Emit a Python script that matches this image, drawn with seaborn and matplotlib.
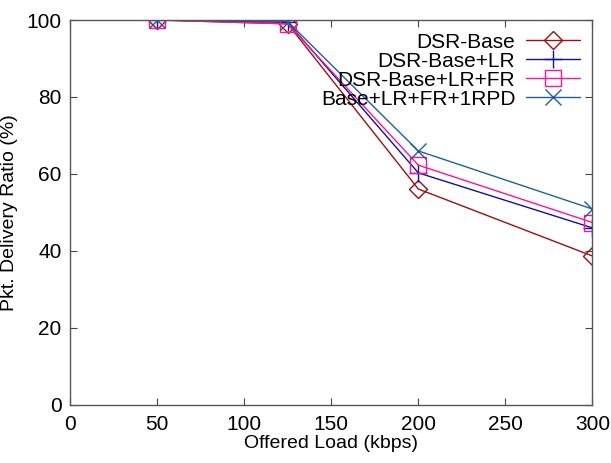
import pandas as pd
import matplotlib
matplotlib.use('Agg')
import matplotlib.pyplot as plt
import seaborn as sns

# Data
load = [50, 125, 200, 300]
dsr_base = [100, 99.0, 56.1, 38.7]
dsr_lr = [100, 99.4, 60.3, 46.0]
dsr_lr_fr = [100, 99.0, 62.3, 47.4]
dsr_lr_fr_rpd = [100, 99.6, 66.0, 50.9]

series_names = ['DSR-Base', 'DSR-Base+LR', 'DSR-Base+LR+FR', 'Base+LR+FR+1RPD']
colors = ['#9b1010', '#1010a8', '#ff1493', '#1f5fa0']
markers = ['D', '+', 's', 'x']
msizes = [9, 13, 12, 12]

df = pd.DataFrame({
    'load': load * 4,
    'pdr': dsr_base + dsr_lr + dsr_lr_fr + dsr_lr_fr_rpd,
    'series': [n for n in series_names for _ in load],
})

sns.set_style('ticks')
plt.rcParams['font.family'] = ['Liberation Sans', 'DejaVu Sans']
plt.rcParams['text.color'] = 'black'
plt.rcParams['xtick.color'] = 'black'
plt.rcParams['ytick.color'] = 'black'
plt.rcParams['axes.labelcolor'] = 'black'

fig = plt.figure(figsize=(6.11, 4.63), dpi=100)
ax = fig.add_axes([0.1146, 0.1253, 0.855, 0.8315])

for name, c, m, ms in zip(series_names, colors, markers, msizes):
    sub = df[df['series'] == name]
    sns.lineplot(data=sub, x='load', y='pdr', ax=ax, color=c, marker=m,
                 markersize=ms, markerfacecolor='none', markeredgecolor=c,
                 markeredgewidth=1.0, linewidth=1.0, label=name)

ax.set_xlim(0, 300)
ax.set_ylim(0, 100)
ax.set_xticks(range(0, 301, 50))
ax.set_yticks(range(0, 101, 20))
ax.tick_params(direction='in', labelsize=15, length=5, top=True, right=True,
               width=0.8, color='#444444')
ax.tick_params(axis='x', pad=7)
ax.tick_params(axis='y', pad=6)
for s in ax.spines.values():
    s.set_color('#555555')
    s.set_linewidth(1.0)
ax.set_xlabel('Offered Load (kbps)', fontsize=14, labelpad=1)
ax.set_ylabel('Pkt. Delivery Ratio (%)', fontsize=14, labelpad=6)

leg = ax.legend(loc='upper right', frameon=False, markerfirst=False, fontsize=15,
                handlelength=2.6, labelspacing=0.0, borderaxespad=0.2,
                handletextpad=0.5)

fig.savefig('out.png', dpi=100)
plt.close()
